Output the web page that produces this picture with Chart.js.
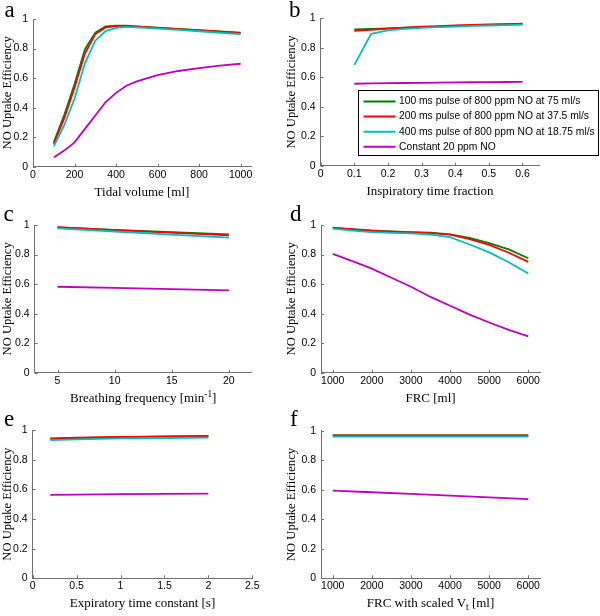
<!DOCTYPE html>
<html><head><meta charset="utf-8">
<script src="https://cdn.jsdelivr.net/npm/chart.js@4.4.0/dist/chart.umd.min.js"></script>
<style>
html,body{margin:0;padding:0;background:#fff;}
#wrap{position:relative;width:600px;height:616px;overflow:hidden;background:#fff;}
#wrap canvas{position:absolute;left:0;top:0;}
</style></head>
<body>
<div id="wrap">
<canvas id="pa" width="600" height="616"></canvas>
<canvas id="pb" width="600" height="616"></canvas>
<canvas id="pc" width="600" height="616"></canvas>
<canvas id="pd" width="600" height="616"></canvas>
<canvas id="pe" width="600" height="616"></canvas>
<canvas id="pf" width="600" height="616"></canvas>
</div>
<script>
// ---------- shared ----------
const seriesNames = ['100 ms pulse of 800 ppm NO at 75 ml/s','200 ms pulse of 800 ppm NO at 37.5 ml/s','400 ms pulse of 800 ppm NO at 18.75 ml/s','Constant 20 ppm NO'];
const seriesColors = ['#008000','#ff0000','#00bfbf','#bf00bf'];
const yTicks = [0,0.2,0.4,0.6,0.8,1];
const yTitle = 'NO Uptake Efficiency';

// ---------- panel a: tidal volume ----------
const aX = [100,150,200,250,300,350,400,450,500,600,700,800,900,1000];
const aGreen = [0.165,0.347,0.56,0.795,0.907,0.950,0.955,0.955,0.950,0.941,0.933,0.925,0.916,0.908];
const aRed   = [0.155,0.325,0.535,0.766,0.898,0.943,0.952,0.952,0.948,0.940,0.931,0.923,0.914,0.905];
const aCyan  = [0.137,0.279,0.46,0.70,0.853,0.918,0.940,0.946,0.943,0.935,0.926,0.917,0.907,0.898];
const aMag   = [0.063,0.109,0.165,0.256,0.347,0.438,0.500,0.548,0.578,0.620,0.648,0.668,0.684,0.697];
const aXTicks = [0,200,400,600,800,1000];

// ---------- panel b: inspiratory time fraction ----------
const bX = [0.1,0.15,0.2,0.25,0.3,0.35,0.4,0.45,0.5,0.55,0.6];
const bGreen = [0.925,0.928,0.932,0.936,0.940,0.944,0.948,0.952,0.955,0.958,0.960];
const bRed   = [0.915,0.922,0.930,0.937,0.943,0.947,0.951,0.955,0.958,0.961,0.964];
const bCyan  = [0.684,0.895,0.918,0.928,0.935,0.940,0.944,0.948,0.951,0.954,0.957];
const bMag   = [0.556,0.558,0.560,0.561,0.562,0.564,0.565,0.566,0.567,0.568,0.569];
const bXTicks = [0,0.1,0.2,0.3,0.4,0.5,0.6];

// ---------- panel c: breathing frequency ----------
const cX = [5,10,15,20];
const cGreen = [0.983,0.966,0.951,0.936];
const cRed   = [0.985,0.965,0.948,0.930];
const cCyan  = [0.977,0.956,0.935,0.914];
const cMag   = [0.582,0.574,0.566,0.558];
const cXTicks = [5,10,15,20];

// ---------- panel d: FRC ----------
const dX = [1000,1500,2000,2500,3000,3500,4000,4500,5000,5500,6000];
const dGreen = [0.980,0.972,0.963,0.957,0.952,0.948,0.937,0.912,0.878,0.835,0.775];
const dRed   = [0.982,0.970,0.960,0.955,0.950,0.945,0.935,0.905,0.866,0.812,0.750];
const dCyan  = [0.975,0.962,0.952,0.947,0.943,0.935,0.918,0.868,0.815,0.748,0.672];
const dMag   = [0.805,0.755,0.705,0.643,0.582,0.513,0.453,0.393,0.340,0.290,0.246];
const dXTicks = [1000,2000,3000,4000,5000,6000];

// ---------- panel e: expiratory time constant ----------
const eX = [0.2,0.5,1,1.5,2];
const eGreen = [0.940,0.945,0.952,0.957,0.960];
const eRed   = [0.944,0.948,0.953,0.956,0.958];
const eCyan  = [0.932,0.937,0.943,0.946,0.948];
const eMag   = [0.562,0.564,0.567,0.569,0.571];
const eXTicks = [0,0.5,1,1.5,2,2.5];

// ---------- panel f: FRC with scaled Vt ----------
const fX = [1000,2000,3000,4000,5000,6000];
const fGreen = [0.968,0.968,0.968,0.968,0.968,0.968];
const fRed   = [0.969,0.969,0.969,0.969,0.969,0.969];
const fCyan  = [0.960,0.960,0.960,0.960,0.960,0.960];
const fMag   = [0.594,0.583,0.572,0.560,0.548,0.537];
const fXTicks = [1000,2000,3000,4000,5000,6000];

// ---------- drawing ----------
const TICK_FONT = {family:'"Liberation Sans", Arial, sans-serif', size:10.5};
const SERIF = '"Liberation Serif", "Times New Roman", serif';
const AXIS_GRAY = '#707070';
const X_H = 40;

const decor = {
  id:'decor',
  afterDraw(chart){
    const p = chart.options.plugins.decor;
    const ctx = chart.ctx;
    const xs = chart.scales.x, ys = chart.scales.y;
    const ca = chart.chartArea;
    ctx.save();
    // inward tick marks
    ctx.strokeStyle = AXIS_GRAY; ctx.lineWidth = 1;
    ctx.beginPath();
    xs.ticks.forEach(t=>{const px=Math.round(xs.getPixelForValue(t.value))+0.5; ctx.moveTo(px,ca.bottom); ctx.lineTo(px,ca.bottom-3);});
    ys.ticks.forEach(t=>{const py=Math.round(ys.getPixelForValue(t.value))+0.5; ctx.moveTo(ca.left,py); ctx.lineTo(ca.left+3,py);});
    ctx.stroke();
    // x title with sub/superscripts
    const segs = p.xTitle;
    const fs = 13;
    let total = 0;
    segs.forEach(s=>{ctx.font = (s.sub||s.sup? fs*0.72 : fs)+'px '+SERIF; s.w = ctx.measureText(s.t).width; total += s.w;});
    let x = (ca.left+ca.right)/2 - total/2;
    const y = ca.bottom + 25.5;
    ctx.fillStyle = '#000'; ctx.textBaseline = 'middle'; ctx.textAlign='left';
    segs.forEach(s=>{
      ctx.font = (s.sub||s.sup? fs*0.72 : fs)+'px '+SERIF;
      ctx.fillText(s.t, x, y + (s.sub?4:0) + (s.sup?-4:0));
      x += s.w;
    });
    // panel letter
    ctx.font = '23px '+SERIF; ctx.textBaseline='alphabetic';
    ctx.fillText(p.letter, p.letterX, p.letterY);
    // legend
    if (p.legend){
      const L = p.legend;
      ctx.fillStyle='#fff'; ctx.fillRect(L.x,L.y,L.w,L.h);
      ctx.strokeStyle='#000'; ctx.lineWidth=1; ctx.strokeRect(L.x,L.y,L.w,L.h);
      ctx.font = '10.3px '+TICK_FONT.family; ctx.textBaseline='middle';
      chart.data.datasets.forEach((ds,i)=>{
        const yy = L.y + 11 + i*15.1;
        ctx.strokeStyle = ds.borderColor; ctx.lineWidth = 2;
        ctx.beginPath(); ctx.moveTo(L.x+5,yy); ctx.lineTo(L.x+37,yy); ctx.stroke();
        ctx.fillStyle='#000'; ctx.fillText(ds.label, L.x+40.5, yy);
      });
    }
    ctx.restore();
  }
};

function makePanel(id, p){
  const datasets = p.series.map((ys,i)=>({
    label: seriesNames[i],
    data: p.x.map((xv,j)=>({x:xv,y:ys[j]})),
    borderColor: seriesColors[i], backgroundColor: seriesColors[i],
    borderWidth: 1.8, pointRadius: 0, fill:false, tension:0,
    order: 4-i
  }));
  const padLeft = p.yTitleX - 7.5;
  const yW = p.area.l - padLeft;
  new Chart(document.getElementById(id), {
    type:'line',
    data:{datasets},
    options:{
      responsive:false, animation:false, devicePixelRatio:1,
      layout:{padding:{left:padLeft, right:600-p.area.r, top:p.area.t, bottom:616-p.area.b-X_H}},
      plugins:{legend:{display:false}, tooltip:{enabled:false},
        decor:{xTitle:p.xTitle, letter:p.letter, letterX:p.letterX, letterY:p.letterY, legend:p.legend}},
      scales:{
        x:{type:'linear', min:p.xmin, max:p.xmax,
           afterBuildTicks:s=>{s.ticks = p.xTicks.map(v=>({value:v}));},
           afterFit:s=>{s.height = X_H;},
           grid:{drawOnChartArea:false, drawTicks:false},
           border:{color:AXIS_GRAY, width:1},
           ticks:{padding:2, font:TICK_FONT, color:'#000', maxRotation:0, autoSkip:false, callback:v=>String(v)}},
        y:{type:'linear', min:0, max:1,
           afterBuildTicks:s=>{s.ticks = yTicks.map(v=>({value:v}));},
           afterFit:s=>{s.width = yW;},
           grid:{drawOnChartArea:false, drawTicks:false},
           border:{color:AXIS_GRAY, width:1},
           title:{display:true, text:yTitle, color:'#000', padding:0, font:{family:SERIF, size:12.6, lineHeight:1.2}},
           ticks:{padding:5, font:TICK_FONT, color:'#000', autoSkip:false, callback:v=>String(v)}}
      }
    },
    plugins:[decor]
  });
}

makePanel('pa',{x:aX, series:[aGreen,aRed,aCyan,aMag], xmin:0, xmax:1050, xTicks:aXTicks,
  area:{l:33,r:251,t:19,b:166.7}, yTitleX:7.5, xTitle:[{t:'Tidal volume [ml]'}], letter:'a', letterX:4.5, letterY:16.5});
makePanel('pb',{x:bX, series:[bGreen,bRed,bCyan,bMag], xmin:0, xmax:0.65, xTicks:bXTicks,
  area:{l:320.7,r:539.3,t:18.3,b:165.7}, yTitleX:292, xTitle:[{t:'Inspiratory time fraction'}], letter:'b', letterX:289, letterY:16.5,
  legend:{x:358.5,y:90.5,w:240,h:65}});
makePanel('pc',{x:cX, series:[cGreen,cRed,cCyan,cMag], xmin:3, xmax:22, xTicks:cXTicks,
  area:{l:34.7,r:251.7,t:225,b:372.7}, yTitleX:7.5, xTitle:[{t:'Breathing frequency [min'},{t:'-1',sup:true},{t:']'}], letter:'c', letterX:3.5, letterY:221});
makePanel('pd',{x:dX, series:[dGreen,dRed,dCyan,dMag], xmin:700, xmax:6300, xTicks:dXTicks,
  area:{l:321,r:540,t:225,b:372.7}, yTitleX:292, xTitle:[{t:'FRC [ml]'}], letter:'d', letterX:290, letterY:221});
makePanel('pe',{x:eX, series:[eGreen,eRed,eCyan,eMag], xmin:0, xmax:2.5, xTicks:eXTicks,
  area:{l:32.7,r:252.3,t:430,b:578.3}, yTitleX:7.5, xTitle:[{t:'Expiratory time constant [s]'}], letter:'e', letterX:4, letterY:426});
makePanel('pf',{x:fX, series:[fGreen,fRed,fCyan,fMag], xmin:700, xmax:6300, xTicks:fXTicks,
  area:{l:321,r:540,t:430.7,b:578.3}, yTitleX:292, xTitle:[{t:'FRC with scaled V'},{t:'t',sub:true},{t:' [ml]'}], letter:'f', letterX:290, letterY:426});
</script>
</body></html>
